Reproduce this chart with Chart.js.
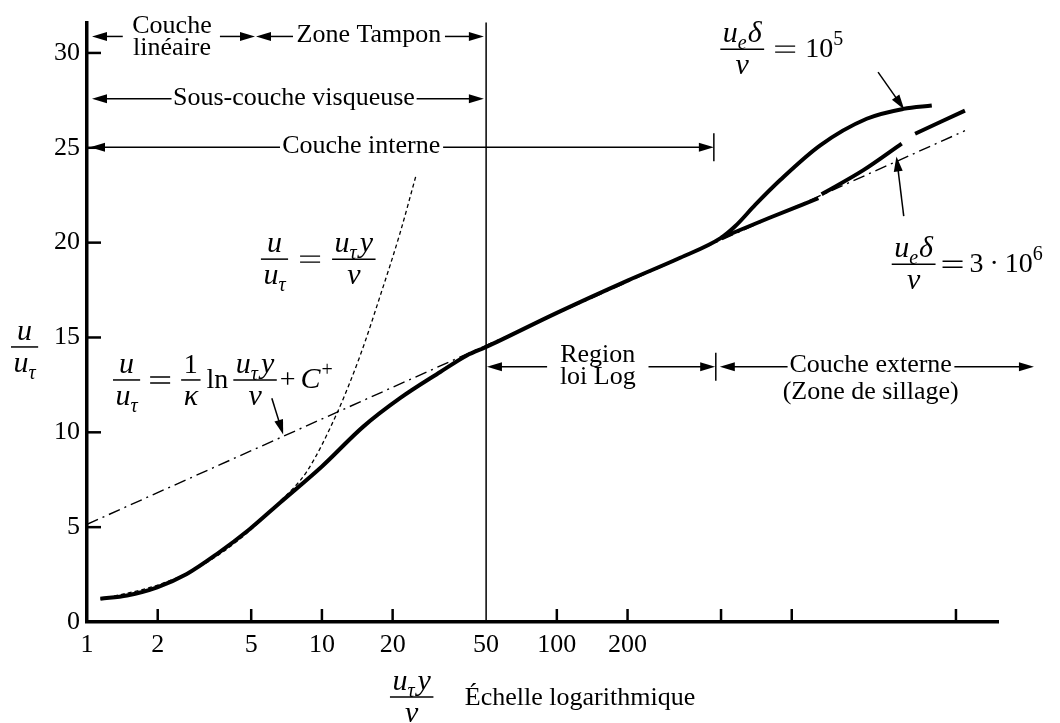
<!DOCTYPE html>
<html lang="fr">
<head>
<meta charset="utf-8">
<title>Loi de paroi</title>
<script src="https://cdn.jsdelivr.net/npm/chart.js@4.4.0/dist/chart.umd.min.js"></script>
<style>
  html, body { margin: 0; padding: 0; background: #fff; }
  #wrap { width: 1060px; height: 723px; }
</style>
</head>
<body>
<div id="wrap"><canvas id="wallChart" width="1060" height="723"></canvas></div>
<script>
// Axes
const xTicks = [1, 2, 5, 10, 20, 50, 100, 200, 500, 1000, 5000];
const xTickLabels = [1, 2, 5, 10, 20, 50, 100, 200];
const yTicks = [0, 5, 10, 15, 20, 25, 30];

// Profil u/uτ en fonction de uτ y/ν, ueδ/ν = 10^5 (paroi -> loi log -> sillage)
const profile1e5 = [
  [1.14, 1.22], [1.48, 1.40], [1.99, 1.83], [2.66, 2.53], [3.57, 3.58], [4.92, 4.89],
  [6.65, 6.30], [10, 8.2], [15, 10.3], [21.5, 11.8], [31.9, 13.18], [41.4, 14.05],
  [50, 14.5], [100, 16.3], [200, 18.0], [335, 19.2], [500, 20.25], [574, 20.86],
  [700, 22.0], [893, 23.3], [1322, 25.13], [2085, 26.53], [2985, 27.05], [3945, 27.23]
];
// Profil ueδ/ν = 3·10^6 (branche basse, avec les coupures du tracé)
const profile3e6 = [
  [500, 20.25], [800, 21.3], [1298, 22.34], [1320, null], [1340, 22.55],
  [2018, 23.82], [2938, 25.22], [3100, null], [3350, 25.74], [5460, 26.96]
];
// u/uτ = uτ y/ν (sous-couche linéaire)
const linearLaw = [
  [1.14, 1.2], [2, 1.95], [3, 2.9], [4.5, 4.4], [6.65, 6.37], [8.63, 7.94],
  [11.58, 11.0], [14.55, 14.05], [17.7, 17.19], [21.5, 20.5], [25.1, 23.5]
];
// loi logarithmique
const logLaw = [[1, 5.15], [5460, 25.9]];

const ink = '#000';
const serif = '"Liberation Serif", "Times New Roman", serif';
const toXY = arr => arr.map(p => ({ x: p[0], y: p[1] }));

// flèches horizontales : [y, pointe, queue]
const spanArrows = [
  [30.87, 1.05, 1.42], [30.87, 5.19, 3.68], [30.87, 5.24, 7.53], [30.87, 48.9, 33.4],
  [27.59, 1.05, 2.29], [27.59, 48.9, 25.3],
  [25.03, 1.03, 6.63], [25.03, 466, 32.8],
  [13.46, 50.4, 90.9], [13.46, 472, 245.6], [13.46, 494, 960], [13.46, 10740, 4923]
];
const spanStops = [[25.03, 466], [13.46, 475]];
const spanLabels = [
  { x: 2.30, y: 30.87, lines: ['Couche', 'linéaire'], offs: [-3, 19] },
  { x: 15.85, y: 30.87, lines: ['Zone Tampon'], offs: [6] },
  { x: 7.6, y: 27.59, lines: ['Sous-couche visqueuse'], offs: [6] },
  { x: 14.7, y: 25.03, lines: ['Couche interne'], offs: [6] },
  { x: 149.4, y: 13.46, lines: ['Region', 'loi Log'], offs: [-5, 17] },
  { x: 2168, y: 13.46, lines: ['Couche externe', '(Zone de sillage)'], offs: [5, 32] }
];
// flèches obliques : [x queue, y queue, x pointe, y pointe]
const pointerArrows = [
  [6.12, 11.8, 6.84, 9.88],
  [2330, 28.99, 3012, 27.02],
  [2997, 21.4, 2790, 24.54]
];

// morceaux de formule : [texte, style] (i italique, b indice, p exposant, q signe =), nombre = espace
const U = [['u', 'i']];
const UTAU = [['u', 'i'], ['τ', 'ib']];
const UTAUY = [['u', 'i'], ['τ', 'ib'], [3], ['y', 'i']];
const NU = [['ν', 'i']];
const UEDELTA = [['u', 'i'], ['e', 'ib'], [1], ['δ', 'i']];

function partFont(ctx, f) {
  const small = f.includes('b') || f.includes('p');
  const size = small ? 20 : (f.includes('i') ? 30 : 28);
  ctx.font = (f.includes('i') ? 'italic ' : '') + size + 'px ' + serif;
}
function partWidth(ctx, p) {
  if (p.length === 1) return p[0];
  if (p[1] === 'q') return 20;
  partFont(ctx, p[1]);
  return ctx.measureText(p[0]).width;
}
function runWidth(ctx, run) {
  return run.reduce((w, p) => w + partWidth(ctx, p), 0);
}
function drawRun(ctx, run, x, y) {
  ctx.textAlign = 'left';
  ctx.textBaseline = 'alphabetic';
  run.forEach(p => {
    const w = partWidth(ctx, p);
    if (p.length === 1) { x += w; return; }
    if (p[1] === 'q') {
      ctx.lineWidth = 1.4;
      ctx.beginPath();
      ctx.moveTo(x, y - 11); ctx.lineTo(x + w, y - 11);
      ctx.moveTo(x, y - 5); ctx.lineTo(x + w, y - 5);
      ctx.stroke();
    } else {
      partFont(ctx, p[1]);
      const dy = p[1].includes('b') ? 7 : p[1].includes('p') ? -12 : 0;
      ctx.fillText(p[0], x, y + dy);
    }
    x += w;
  });
  return x;
}
function drawFrac(ctx, left, barY, num, den) {
  const wn = runWidth(ctx, num), wd = runWidth(ctx, den);
  const w = Math.max(wn, wd) + 5;
  ctx.lineWidth = 1.5;
  ctx.beginPath(); ctx.moveTo(left, barY); ctx.lineTo(left + w, barY); ctx.stroke();
  drawRun(ctx, num, left + (w - wn) / 2, barY - 7);
  drawRun(ctx, den, left + (w - wd) / 2, barY + 25);
  return left + w;
}
// équation : suite de fractions {f:[num,den]} et de textes {r:run}
function drawEq(ctx, x, barY, items) {
  items.forEach(it => {
    if (it.f) x = drawFrac(ctx, x, barY, it.f[0], it.f[1]);
    else x = drawRun(ctx, it.r, x, barY + 8);
  });
}
function head(ctx, tx, ty, ang) {
  const L = 15, H = 4.5;
  ctx.beginPath();
  ctx.moveTo(tx, ty);
  ctx.lineTo(tx - L * Math.cos(ang) + H * Math.sin(ang), ty - L * Math.sin(ang) - H * Math.cos(ang));
  ctx.lineTo(tx - L * Math.cos(ang) - H * Math.sin(ang), ty - L * Math.sin(ang) + H * Math.cos(ang));
  ctx.closePath();
  ctx.fill();
}
function arrow(ctx, x1, y1, x2, y2) {
  const ang = Math.atan2(y2 - y1, x2 - x1);
  ctx.lineWidth = 1.5;
  ctx.beginPath(); ctx.moveTo(x1, y1); ctx.lineTo(x2 - 8 * Math.cos(ang), y2 - 8 * Math.sin(ang)); ctx.stroke();
  head(ctx, x2, y2, ang);
}

const wallDecor = {
  id: 'wallDecor',
  beforeDatasetsDraw(chart) {
    const { ctx, chartArea: a, scales: { x } } = chart;
    ctx.save();
    ctx.strokeStyle = ink;
    ctx.lineWidth = 1.5;
    const px = x.getPixelForValue(50);
    ctx.beginPath(); ctx.moveTo(px, a.top); ctx.lineTo(px, a.bottom); ctx.stroke();
    ctx.restore();
  },
  afterDraw(chart) {
    const { ctx, chartArea: a, scales: { x, y } } = chart;
    const X = v => x.getPixelForValue(v), Y = v => y.getPixelForValue(v);
    ctx.save();
    ctx.strokeStyle = ink;
    ctx.fillStyle = ink;

    // graduations tournées vers l'intérieur
    ctx.lineWidth = 2.5;
    yTicks.filter(v => v > 0).forEach(v => {
      ctx.beginPath(); ctx.moveTo(a.left, Y(v)); ctx.lineTo(a.left + 14, Y(v)); ctx.stroke();
    });
    xTicks.filter(v => v !== 1 && v !== 50).forEach(v => {
      ctx.beginPath(); ctx.moveTo(X(v), a.bottom); ctx.lineTo(X(v), a.bottom - 13); ctx.stroke();
    });

    // flèches des zones
    spanArrows.forEach(([yv, tip, tail]) => arrow(ctx, X(tail), Y(yv), X(tip), Y(yv)));
    ctx.lineWidth = 1.5;
    spanStops.forEach(([yv, xv]) => {
      ctx.beginPath(); ctx.moveTo(X(xv), Y(yv) - 14); ctx.lineTo(X(xv), Y(yv) + 14); ctx.stroke();
    });
    ctx.textAlign = 'center';
    ctx.textBaseline = 'alphabetic';
    ctx.font = '26px ' + serif;
    spanLabels.forEach(l => {
      l.lines.forEach((t, i) => ctx.fillText(t, X(l.x), Y(l.y) + l.offs[i]));
    });
    pointerArrows.forEach(([x1, y1, x2, y2]) => arrow(ctx, X(x1), Y(y1), X(x2), Y(y2)));

    // formules
    drawEq(ctx, X(5.5), Y(19.13), [{ f: [U, UTAU] }, { r: [[12], ['=', 'q'], [12]] }, { f: [UTAUY, NU] }]);
    drawEq(ctx, X(1.29), Y(12.76), [
      { f: [U, UTAU] }, { r: [[10], ['=', 'q'], [11]] }, { f: [[['1', '']], [['κ', 'i']]] },
      { r: [[6], ['ln', ''], [5]] }, { f: [UTAUY, NU] },
      { r: [[3], ['+', ''], [5], ['C', 'i'], [1], ['+', 'p']] }
    ]);
    drawEq(ctx, X(610) - 21, Y(30.2), [{ f: [UEDELTA, NU] }, { r: [[11], ['=', 'q'], [10], ['10', ''], ['5', 'p']] }]);
    drawEq(ctx, X(3273) - 21, Y(18.86), [{ f: [UEDELTA, NU] }, { r: [[7], ['=', 'q'], [7], ['3', ''], [6], ['·', ''], [6], ['10', ''], ['6', 'p']] }]);

    // titres des axes
    drawFrac(ctx, a.left - 76, Y(14.5), U, UTAU);
    drawFrac(ctx, X(23.7) - 20, a.bottom + 75, UTAUY, NU);
    ctx.textAlign = 'left';
    ctx.font = '26px ' + serif;
    ctx.fillText('Échelle logarithmique', X(40.6), a.bottom + 83);
    ctx.restore();
  }
};

const lineStyle = { showLine: true, pointRadius: 0, borderColor: ink, fill: false, spanGaps: false };

new Chart(document.getElementById('wallChart'), {
  type: 'scatter',
  data: {
    datasets: [
      { ...lineStyle, data: toXY(profile1e5), borderWidth: 4, cubicInterpolationMode: 'monotone' },
      { ...lineStyle, data: toXY(profile3e6), borderWidth: 4, cubicInterpolationMode: 'monotone' },
      { ...lineStyle, data: toXY(linearLaw), borderWidth: 1.3, borderDash: [4, 3], cubicInterpolationMode: 'monotone' },
      { ...lineStyle, data: toXY(logLaw), borderWidth: 1.4, borderDash: [12, 5, 2, 5] }
    ]
  },
  options: {
    responsive: false,
    animation: false,
    layout: { padding: { top: 18, right: 62, left: 0, bottom: 0 } },
    plugins: { legend: { display: false }, tooltip: { enabled: false } },
    scales: {
      x: {
        type: 'logarithmic', min: 1, max: 7550, bounds: 'data',
        afterBuildTicks: s => { s.ticks = xTicks.map(v => ({ value: v })); },
        afterFit: s => { s.height = 101; },
        grid: { display: false, drawTicks: false },
        border: { display: true, width: 3.5, color: ink },
        ticks: {
          autoSkip: false, maxRotation: 0, padding: 8, color: ink,
          font: { family: serif, size: 26 },
          callback: v => xTickLabels.includes(v) ? String(v) : ''
        }
      },
      y: {
        min: 0, max: 31.6, bounds: 'data',
        afterBuildTicks: s => { s.ticks = yTicks.map(v => ({ value: v })); },
        afterFit: s => { s.width = 87; },
        grid: { display: false, drawTicks: false },
        border: { display: true, width: 3.5, color: ink },
        ticks: { padding: 7, color: ink, font: { family: serif, size: 26 } }
      }
    }
  },
  plugins: [wallDecor]
});
</script>
</body>
</html>
